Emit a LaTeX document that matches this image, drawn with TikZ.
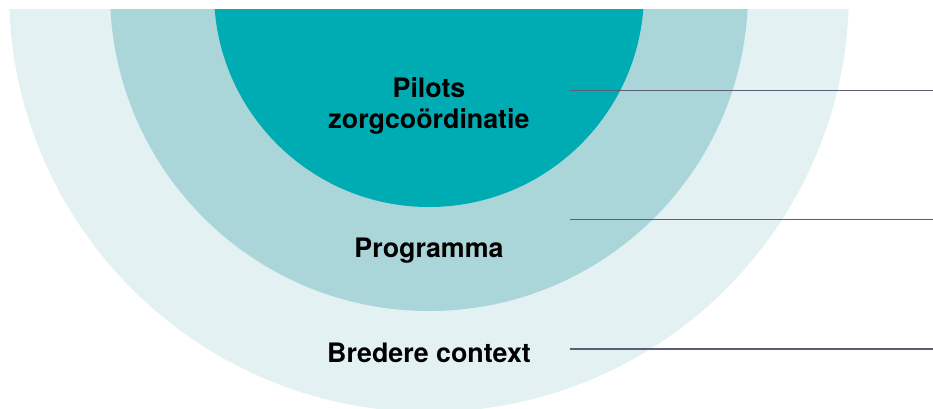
\documentclass[tikz,border=0pt]{standalone}
\usepackage{fontspec}
\setmainfont{TeX Gyre Heros}
\usepackage{tikz}
\definecolor{kern}{HTML}{00ACB3}
\definecolor{midden}{HTML}{AAD6D9}
\definecolor{buiten}{HTML}{E3F1F2}
\definecolor{lijn}{HTML}{596075}
\tikzset{
  laag/.style={font=\bfseries\fontsize{13.4bp}{15.75bp}\selectfont,align=center,inner sep=0pt,anchor=base},
  verwijs/.style={draw=lijn,line width=0.75bp}
}

\begin{document}
\begin{tikzpicture}

\useasboundingbox (0bp,0bp) rectangle (466.5bp,-204.5bp);
\begin{scope}
\clip (0bp,-4.5bp) rectangle (466.5bp,-204.5bp);
\fill[buiten] (214.5bp,4bp) circle (210bp);
\fill[midden] (214.5bp,4bp) circle (159.5bp);
\fill[kern] (214.5bp,4bp) circle (107.5bp);
\end{scope}
\node (pilots) at (214.5bp,-64.25bp)[laag] {Pilots\\zorgco\"ordinatie};
\node (programma) at (214.5bp,-128.5bp)[laag] {Programma};
\node (context) at (214.5bp,-181bp)[laag] {Bredere context};
\coordinate (a1) at (284.75bp,-45.25bp);
\coordinate (b1) at (466.5bp,-45.25bp);
\coordinate (a2) at (284.75bp,-109.75bp);
\coordinate (b2) at (466.5bp,-109.75bp);
\coordinate (a3) at (284.75bp,-174.5bp);
\coordinate (b3) at (466.5bp,-174.5bp);
\draw [verwijs] (a1) -- (b1);
\draw [verwijs] (a2) -- (b2);
\draw [verwijs] (a3) -- (b3);
\end{tikzpicture}
\end{document}
